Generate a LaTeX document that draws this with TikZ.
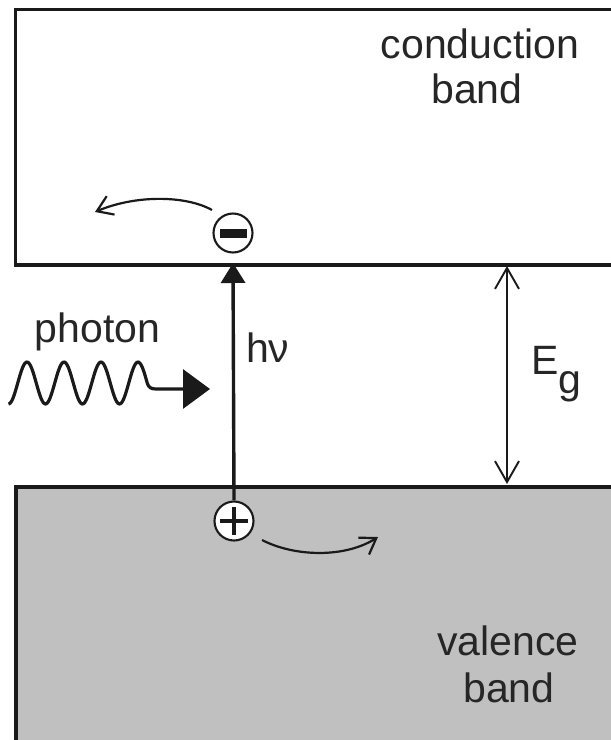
\documentclass[tikz,border=0pt]{standalone}
\usepackage{fontspec}
\setmainfont{Liberation Sans}
\usetikzlibrary{arrows.meta}
\definecolor{vbgray}{RGB}{192,192,192}
\definecolor{ink}{RGB}{26,26,26}
\definecolor{txt}{RGB}{38,38,38}
\begin{document}
\begin{tikzpicture}[x=1pt,y=-1pt,
  lbl/.style={font=\fontsize{41}{46}\selectfont, text=txt, inner sep=0pt},
  bandline/.style={line width=3.1pt, draw=ink},
  charge/.style={circle, draw=ink, fill=white, line width=2.1pt, minimum size=39pt, inner sep=0pt},
  bigarrow/.style={line width=3.4pt, draw=ink, -{Triangle[length=20pt,width=24pt]}},
  gaparrow/.style={line width=1.9pt, draw=ink, {Straight Barb[length=21pt,width=24pt]}-{Straight Barb[length=21pt,width=24pt]}},
  carrier/.style={line width=2.2pt, draw=ink, -{Straight Barb[length=15pt,width=20pt]}},
  wave/.style={line width=3.2pt, draw=ink, line join=round, -{Triangle[length=27pt,width=39pt]}}]
\useasboundingbox (0,0) rectangle (611,740);
\clip (0,0) rectangle (611,740);
% bands
\fill[vbgray] (16,487) rectangle (640,760);
\draw[bandline] (640,487) -- (16,487) -- (16,760);
\draw[bandline] (640,9.5) -- (15.5,9.5) -- (15.5,265) -- (640,265);
% labels
\node[lbl, anchor=base] (cond1) at (480,58) {conduction};
\node[lbl, anchor=base] (cond2) at (477,103) {band};
\node[lbl, anchor=base] (val1) at (508,655) {valence};
\node[lbl, anchor=base] (val2) at (509,702) {band};
\node[lbl, anchor=base] (photon) at (97.5,342) {photon};
\node[lbl, anchor=base west] (hnu) at (246,362) {hν};
\node[lbl, anchor=base west] (eg) at (531,374) {E\raisebox{-19pt}{g}};
% coordinates
\coordinate (cbtip) at (233,263);
\coordinate (egtop) at (507,266);
\coordinate (egbot) at (507,484);
\coordinate (estart) at (212,210);
\coordinate (eend) at (95,212);
\coordinate (hstart) at (262,540);
\coordinate (hend) at (378,537);
% charges
\node[charge] (hp) at (234,521) {};
\node[charge] (em) at (233,233) {};
\fill[ink] ([xshift=-13.5pt,yshift=4.5pt]em.center) rectangle ([xshift=13.5pt,yshift=-4.5pt]em.center);
\draw[ink, line width=3.8pt] ([xshift=-14pt]hp.center) -- ([xshift=14pt]hp.center);
\draw[ink, line width=3.8pt] ([yshift=-14pt]hp.center) -- ([yshift=14pt]hp.center);
% excitation arrow
\draw[bigarrow] (hp.north) -- (cbtip);
% band gap arrow
\draw[gaparrow] (egtop) -- (egbot);
% carrier motion
\draw[carrier] (estart) .. controls (185,195) and (135,195) .. (eend);
\draw[carrier] (hstart) .. controls (295,557) and (345,558) .. (hend);
% photon wave
\draw[wave] plot[domain=8.5:147.25, samples=120, smooth] (\x, {383+21*cos(9.72973*(\x-8.5))})
  .. controls (148.5,387.5) and (151,389) .. (156,389) -- (210,389);
\end{tikzpicture}
\end{document}
